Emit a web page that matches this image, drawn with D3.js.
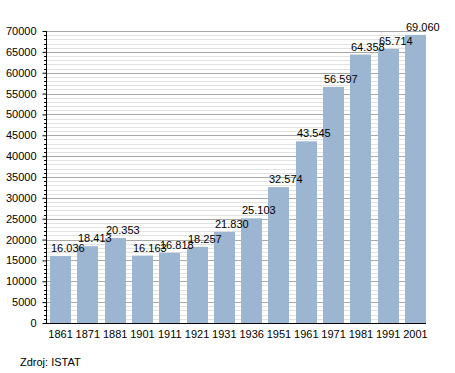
<!DOCTYPE html>
<html>
<head>
<meta charset="utf-8">
<script src="https://cdn.jsdelivr.net/npm/d3@7"></script>
<style>
  body { margin: 0; background: #fff; }
  svg text { font-family: "Liberation Sans", Arial, sans-serif; fill: #000; }
</style>
</head>
<body>
<div id="chart"></div>
<script>
// Population by census year
var years = ["1861", "1871", "1881", "1901", "1911", "1921", "1931", "1936", "1951", "1961", "1971", "1981", "1991", "2001"];
var population = [16036, 18413, 20353, 16163, 16818, 18257, 21830, 25103, 32574, 43545, 56597, 64358, 65714, 69060];
var yTicks = [0, 5000, 10000, 15000, 20000, 25000, 30000, 35000, 40000, 45000, 50000, 55000, 60000, 65000, 70000];
var source = "Zdroj: ISTAT";

var width = 455, height = 373;
var plotLeft = 46, plotRight = 426, plotTop = 31, plotBottom = 323;

var svg = d3.select("#chart").append("svg")
  .attr("width", width)
  .attr("height", height);

var x = d3.scaleBand()
  .domain(years)
  .range([50, plotRight])
  .paddingInner(0.23)
  .paddingOuter(0);

var y = d3.scaleLinear()
  .domain([0, 70000])
  .range([plotBottom, plotTop]);

// minor grid every 1000, major every 5000
var minor = d3.range(1000, 70001, 1000).filter(function(d) { return d % 5000 != 0; });

svg.append("g").selectAll("line")
  .data(minor)
  .enter().append("line")
  .attr("x1", plotLeft).attr("x2", plotRight)
  .attr("y1", function(d) { return Math.round(y(d)) + 0.5; })
  .attr("y2", function(d) { return Math.round(y(d)) + 0.5; })
  .attr("stroke", "#e2e2e2");

svg.append("g").selectAll("line")
  .data(yTicks.slice(1))
  .enter().append("line")
  .attr("x1", plotLeft).attr("x2", plotRight)
  .attr("y1", function(d) { return Math.round(y(d)) + 0.5; })
  .attr("y2", function(d) { return Math.round(y(d)) + 0.5; })
  .attr("stroke", "#a8a8a8");

// bars
svg.append("g").selectAll("rect")
  .data(population)
  .enter().append("rect")
  .attr("x", function(d, i) { return Math.round(x(years[i])); })
  .attr("y", function(d) { return y(d); })
  .attr("width", Math.round(x.bandwidth()))
  .attr("height", function(d) { return plotBottom - y(d); })
  .attr("fill", "#9cb5d0");

// value labels
var fmt = function(d) { return d3.format(",")(d).replace(",", "."); };
svg.append("g").selectAll("text")
  .data(population)
  .enter().append("text")
  .attr("x", function(d, i) { return Math.round(x(years[i])) + 1; })
  .attr("y", function(d) { return y(d) - 4; })
  .style("font-size", "11px")
  .text(fmt);

// y axis with minor ticks
var yAxis = d3.axisLeft(y).tickValues(yTicks).tickSize(4).tickPadding(6).tickFormat(d3.format("d"));
svg.append("g")
  .attr("transform", "translate(" + (plotLeft + 0.5) + ",0)")
  .call(yAxis)
  .call(function(g) { g.select(".domain").remove(); })
  .call(function(g) { g.selectAll("text").style("font-size", "11px").attr("font-family", null); });

svg.append("g").selectAll("line")
  .data(minor)
  .enter().append("line")
  .attr("x1", plotLeft - 2).attr("x2", plotLeft)
  .attr("y1", function(d) { return Math.round(y(d)) + 0.5; })
  .attr("y2", function(d) { return Math.round(y(d)) + 0.5; })
  .attr("stroke", "#000");

svg.append("line")
  .attr("x1", plotLeft + 0.5).attr("x2", plotLeft + 0.5)
  .attr("y1", plotTop).attr("y2", plotBottom)
  .attr("stroke", "#000");

// x axis
var xAxis = d3.axisBottom(x).tickSize(0).tickPadding(7);
svg.append("g")
  .attr("transform", "translate(0," + (plotBottom + 0.5) + ")")
  .call(xAxis)
  .call(function(g) { g.select(".domain").remove(); })
  .call(function(g) { g.selectAll("text").style("font-size", "11px").attr("font-family", null); });

svg.append("line")
  .attr("x1", plotLeft).attr("x2", plotRight)
  .attr("y1", plotBottom + 0.5).attr("y2", plotBottom + 0.5)
  .attr("stroke", "#000");

svg.append("text")
  .attr("x", 20)
  .attr("y", 366)
  .style("font-size", "11px")
  .text(source);
</script>
</body>
</html>
